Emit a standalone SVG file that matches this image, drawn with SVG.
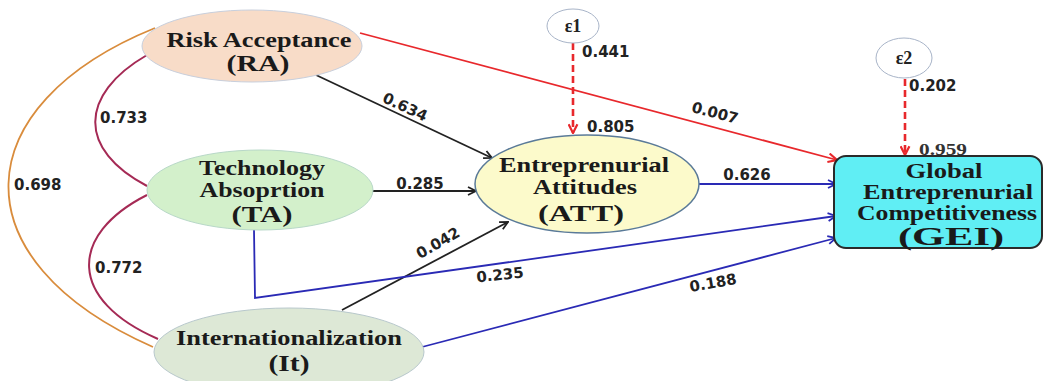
<svg xmlns="http://www.w3.org/2000/svg" width="1045" height="381" viewBox="0 0 1045 381">
<style>
.nt{font-family:"Liberation Serif",serif;font-weight:bold;fill:#1a1a1a;text-anchor:middle}
.s{font-size:20px}
.b{font-size:24px}
.num{font-family:"DejaVu Sans",sans-serif;font-weight:bold;font-size:15px;fill:#222}
.eps{font-family:"Liberation Serif",serif;font-weight:bold;font-size:18px;fill:#222;text-anchor:middle}
.blk{stroke:#222;stroke-width:1.8;fill:none}
.blu{stroke:#2a2ab5;stroke-width:1.8;fill:none}
.red{stroke:#e8282c;stroke-width:1.8;fill:none}
.dash{stroke:#e8282c;stroke-width:2.6;fill:none;stroke-dasharray:7,4}
</style>
<defs>
<marker id="ak" viewBox="0 0 10 10" refX="9" refY="5" markerWidth="10" markerHeight="10" markerUnits="userSpaceOnUse" orient="auto"><path d="M1,1 L9,5 L1,9" fill="none" stroke="#222" stroke-width="1.8"/></marker>
<marker id="ab" viewBox="0 0 10 10" refX="9" refY="5" markerWidth="10" markerHeight="10" markerUnits="userSpaceOnUse" orient="auto"><path d="M1,1 L9,5 L1,9" fill="none" stroke="#2a2ab5" stroke-width="1.8"/></marker>
<marker id="ar" viewBox="0 0 10 10" refX="9" refY="5" markerWidth="11" markerHeight="11" markerUnits="userSpaceOnUse" orient="auto"><path d="M1,1 L9,5 L1,9" fill="none" stroke="#e8282c" stroke-width="2"/></marker>
</defs>
<rect width="1045" height="381" fill="#fff"/>
<g id="connectors">
<path d="M147,55 C78,95 78,150 147,186" fill="none" stroke="#a52a55" stroke-width="2"/>
<path d="M147,195 C68,235 68,300 158,339" fill="none" stroke="#a52a55" stroke-width="2"/>
<path d="M155,28 C-35,105 -45,260 153,347" fill="none" stroke="#d98c3c" stroke-width="1.8"/>
<path class="red" d="M360,33 L837,160" marker-end="url(#ar)"/>
<path class="blk" d="M316,75 L492,158" marker-end="url(#ak)"/>
<path class="blk" d="M372,191 L476,191" marker-end="url(#ak)"/>
<path class="blk" d="M342,310 L508,222" marker-end="url(#ak)"/>
<path class="blu" d="M698,184 L836,184" marker-end="url(#ab)"/>
<path class="blu" d="M254,230 L255,298 L836,216" marker-end="url(#ab)"/>
<path class="blu" d="M422,347 L836,238" marker-end="url(#ab)"/>
<path class="dash" d="M573,43 L573,133" marker-end="url(#ar)"/>
<path class="dash" d="M905,79 L905,155" marker-end="url(#ar)"/>
<text class="num" x="100" y="123">0.733</text>
<text class="num" x="95" y="273">0.772</text>
<text class="num" x="14" y="190">0.698</text>
<text class="num" x="405" y="112" text-anchor="middle" transform="rotate(25 405 107)">0.634</text>
<text class="num" x="420" y="189" text-anchor="middle">0.285</text>
<text class="num" x="438" y="248" text-anchor="middle" transform="rotate(-30 438 243)">0.042</text>
<text class="num" x="500" y="280" text-anchor="middle" transform="rotate(-6 500 275)">0.235</text>
<text class="num" x="713" y="288" text-anchor="middle" transform="rotate(-10 713 283)">0.188</text>
<text class="num" x="715" y="118" text-anchor="middle" transform="rotate(15 715 113)">0.007</text>
<text class="num" x="747" y="180" text-anchor="middle">0.626</text>
<text class="num" x="582" y="57">0.441</text>
<text class="num" x="587" y="132">0.805</text>
<text class="num" x="909" y="91">0.202</text>
<text x="919" y="155" style="font-family:'Liberation Serif',serif;font-weight:bold;font-size:17px;fill:#333" textLength="48" lengthAdjust="spacingAndGlyphs">0.959</text>
</g>
<g id="RA">
<ellipse cx="252" cy="46" rx="110" ry="36" fill="#f8dcc8" stroke="#c8cfdc" stroke-width="1"/>
<text class="nt s" x="259" y="47" textLength="185" lengthAdjust="spacingAndGlyphs">Risk Acceptance</text>
<text class="nt b" x="258" y="71" textLength="63" lengthAdjust="spacingAndGlyphs">(RA)</text>
</g>
<g id="TA">
<ellipse cx="260" cy="190" rx="113" ry="40" fill="#d3f0cb" stroke="#b8d8c8" stroke-width="1"/>
<text class="nt s" x="262" y="175" textLength="126" lengthAdjust="spacingAndGlyphs">Technology</text>
<text class="nt s" x="262" y="197" textLength="125" lengthAdjust="spacingAndGlyphs">Absoprtion</text>
<text class="nt b" x="262" y="222" textLength="61" lengthAdjust="spacingAndGlyphs">(TA)</text>
</g>
<g id="It">
<ellipse cx="289" cy="352" rx="135" ry="44" fill="#dde8d6" stroke="#b8c8cc" stroke-width="1"/>
<text class="nt s" x="289" y="345" textLength="226" lengthAdjust="spacingAndGlyphs">Internationalization</text>
<text class="nt b" x="289" y="371" textLength="41" lengthAdjust="spacingAndGlyphs">(It)</text>
</g>
<g id="ATT">
<ellipse cx="587" cy="184" rx="112" ry="49" fill="#fcfacb" stroke="#5a7a98" stroke-width="1.5"/>
<text class="nt s" x="584" y="172" textLength="170" lengthAdjust="spacingAndGlyphs">Entreprenurial</text>
<text class="nt s" x="585" y="194" textLength="104" lengthAdjust="spacingAndGlyphs">Attitudes</text>
<text class="nt" x="581" y="221" style="font-size:24px" textLength="86" lengthAdjust="spacingAndGlyphs">(ATT)</text>
</g>
<g id="GEI">
<rect x="834" y="156" width="208" height="92" rx="12" fill="#60eef4" stroke="#2a2a2a" stroke-width="2"/>
<text class="nt s" x="944" y="178" textLength="77" lengthAdjust="spacingAndGlyphs">Global</text>
<text class="nt s" x="948" y="199" textLength="170" lengthAdjust="spacingAndGlyphs">Entreprenurial</text>
<text class="nt s" x="947" y="220" textLength="180" lengthAdjust="spacingAndGlyphs">Competitiveness</text>
<text class="nt" x="951" y="245" style="font-size:25px" textLength="106" lengthAdjust="spacingAndGlyphs">(GEI)</text>
</g>
<g id="e1">
<ellipse cx="573" cy="26" rx="26" ry="17" fill="#fff" stroke="#a8b4c8" stroke-width="1"/>
<text class="eps" x="573" y="32">ε1</text>
</g>
<g id="e2">
<ellipse cx="904" cy="58" rx="28" ry="20" fill="#fff" stroke="#a8b4c8" stroke-width="1"/>
<text class="eps" x="904" y="64">ε2</text>
</g>
</svg>
